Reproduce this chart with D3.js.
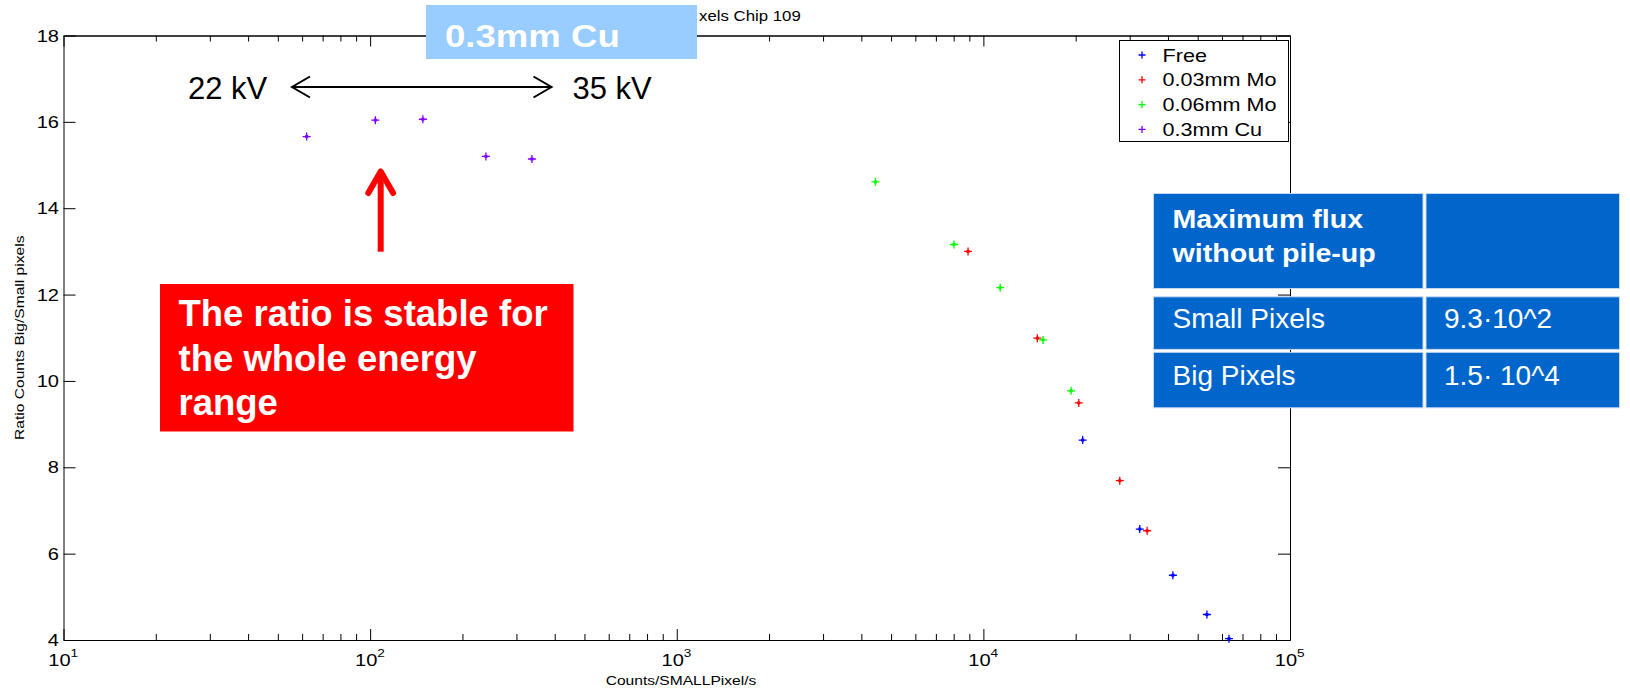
<!DOCTYPE html>
<html>
<head>
<meta charset="utf-8">
<script src="https://cdn.jsdelivr.net/npm/d3@7"></script>
<style>
  html, body { margin: 0; padding: 0; background: #fff; }
  svg { display: block; font-family: "Liberation Sans", Arial, sans-serif; }
</style>
</head>
<body>
<svg id="chart" width="1630" height="688"></svg>
<script>
// ---------------- data ----------------
const seriesNames = ["Free", "0.03mm Mo", "0.06mm Mo", "0.3mm Cu"];
const freeX = [21080, 32360, 41500, 53580, 63240];
const freeY = [8.63, 6.57, 5.50, 4.59, 4.03];
const mo03X = [8913, 14997, 20470, 27850, 34200];
const mo03Y = [13.00, 10.99, 9.49, 7.69, 6.53];
const mo06X = [4446, 8017, 11350, 15650, 19320];
const mo06Y = [14.61, 13.16, 12.16, 10.95, 9.77];
const cuX = [62.1, 104, 148.6, 238.6, 337];
const cuY = [15.66, 16.04, 16.06, 15.20, 15.14];
const yTicks = [4, 6, 8, 10, 12, 14, 16, 18];
const xDecades = [10, 100, 1000, 10000, 100000];
const xExponents = ["1", "2", "3", "4", "5"];
const titleVisible = "xels Chip 109"; // the rest of the title is hidden behind the filter label
const xLabel = "Counts/SMALLPixel/s";
const yLabel = "Ratio Counts Big/Small pixels";
const filterLabel = "0.3mm Cu";
const kvLabels = ["22 kV", "35 kV"];
const noteLines = ["The ratio is stable for", "the whole energy", "range"];
const tableHeader = ["Maximum flux", "without pile-up"];
const tableRowLabels = ["Small Pixels", "Big Pixels"];
const tableRowValues = ["9.3\u00B710^2", "1.5\u00B7 10^4"];

const seriesData = [
  {name: seriesNames[0], xs: freeX, ys: freeY, color: "#0000ff"},
  {name: seriesNames[1], xs: mo03X, ys: mo03Y, color: "#ff0000"},
  {name: seriesNames[2], xs: mo06X, ys: mo06Y, color: "#00ff00"},
  {name: seriesNames[3], xs: cuX, ys: cuY, color: "#7f00ff"}
];

// ---------------- layout ----------------
const L = 63.5, R = 1290, T = 35.5, B = 640;
const svg = d3.select("#chart");
const x = d3.scaleLog().domain([10, 100000]).range([L, R]);
const y = d3.scaleLinear().domain([4, 18]).range([B, T]);

function stretchedText(g, tx, ty, txt, size, sx, anchor, weight, color) {
  return g.append("text")
    .attr("transform", `translate(${tx},${ty}) scale(${sx},1)`)
    .attr("text-anchor", anchor || "start")
    .attr("font-size", size)
    .attr("font-weight", weight || "normal")
    .attr("fill", color || "#000")
    .text(txt);
}

// minor tick values
const minorTicks = [];
for (let d = 10; d < 100000; d *= 10) for (let m = 2; m <= 9; m++) minorTicks.push(d * m);

// title (visible part, to the right of the filter label box)
stretchedText(svg, 699, 21, titleVisible, 14, 1.2, "start");

// axes
const axG = svg.append("g");
function styleAxis(g) {
  g.selectAll("path.domain").attr("stroke", "#000").attr("stroke-width", 1);
  g.selectAll(".tick line").attr("stroke", "#000").attr("stroke-width", 1);
  g.selectAll(".tick text").remove();
}
axG.append("g").attr("transform", `translate(0,${B})`)
  .call(d3.axisBottom(x).tickValues(xDecades).tickSizeInner(-11).tickSizeOuter(0).tickFormat(""))
  .call(styleAxis);
axG.append("g").attr("transform", `translate(0,${B})`)
  .call(d3.axisBottom(x).tickValues(minorTicks).tickSizeInner(-6).tickSizeOuter(0).tickFormat(""))
  .call(styleAxis);
axG.append("g").attr("transform", `translate(0,${T})`)
  .call(d3.axisTop(x).tickValues(xDecades).tickSizeInner(-11).tickSizeOuter(0).tickFormat(""))
  .call(styleAxis);
axG.append("g").attr("transform", `translate(0,${T})`)
  .call(d3.axisTop(x).tickValues(minorTicks).tickSizeInner(-6).tickSizeOuter(0).tickFormat(""))
  .call(styleAxis);
axG.append("g").attr("transform", `translate(${L},0)`)
  .call(d3.axisLeft(y).tickValues(yTicks).tickSizeInner(-12).tickSizeOuter(0).tickFormat(""))
  .call(styleAxis);
axG.append("g").attr("transform", `translate(${R},0)`)
  .call(d3.axisRight(y).tickValues(yTicks).tickSizeInner(-12).tickSizeOuter(0).tickFormat(""))
  .call(styleAxis);

// y tick labels
yTicks.forEach(v => {
  stretchedText(svg, L - 4.5, y(v) + 6, String(v), 17, 1.18, "end");
});
// x tick labels with superscripts
xDecades.forEach((v, i) => {
  const cx = x(v);
  stretchedText(svg, cx - 4, 666, "10", 17, 1.18, "middle");
  stretchedText(svg, cx + 7, 657, xExponents[i], 11.5, 1.18, "start");
});
// axis labels
stretchedText(svg, 681, 685, xLabel, 13, 1.2, "middle");
svg.append("text")
  .attr("transform", `translate(24,${(T + B) / 2}) rotate(-90) scale(1.2,1)`)
  .attr("text-anchor", "middle").attr("font-size", 13).text(yLabel);

// markers
function plusPath(px, py, s) {
  return `M${px - s},${py}H${px + s}M${px},${py - s}V${py + s}`;
}
const ptsG = svg.append("g");
seriesData.forEach(s => {
  const pts = s.xs.map((v, i) => [v, s.ys[i]]);
  ptsG.selectAll(null).data(pts).enter().append("path")
    .attr("d", d => plusPath(x(d[0]), y(d[1]), 4))
    .attr("stroke", s.color).attr("stroke-width", 1.3).attr("fill", "none");
  ptsG.selectAll(null).data(pts).enter().append("rect")
    .attr("x", d => x(d[0]) - 1.5).attr("y", d => y(d[1]) - 1.5)
    .attr("width", 3).attr("height", 3).attr("fill", s.color);
});

// legend
const lg = svg.append("g");
lg.append("rect").attr("x", 1119.5).attr("y", 40.5).attr("width", 169).attr("height", 101)
  .attr("fill", "#fff").attr("stroke", "#000").attr("stroke-width", 1);
seriesData.forEach((s, i) => {
  const ly = 55 + i * 24.8;
  lg.append("path").attr("d", plusPath(1142, ly, 3.5)).attr("stroke", s.color).attr("stroke-width", 1.3);
  stretchedText(lg, 1162.5, ly + 6.5, s.name, 18, 1.2, "start");
});

// filter label box
svg.append("rect").attr("x", 426).attr("y", 5).attr("width", 271).attr("height", 54).attr("fill", "#99ccff");
stretchedText(svg, 445, 47, filterLabel, 31, 1.18, "start", "bold", "#fff");

// kV labels and double arrow
svg.append("text").attr("x", 188).attr("y", 98.5).attr("font-size", 31).text(kvLabels[0]);
svg.append("text").attr("x", 572.5).attr("y", 98.5).attr("font-size", 31).text(kvLabels[1]);
const arr = svg.append("g").attr("stroke", "#000").attr("stroke-width", 2).attr("fill", "none");
arr.append("line").attr("x1", 292).attr("y1", 87).attr("x2", 551.5).attr("y2", 87);
arr.append("polyline").attr("points", "310,76.5 292,87 310,97.5");
arr.append("polyline").attr("points", "533.5,76.5 551.5,87 533.5,97.5");

// red arrow
const ra = svg.append("g").attr("stroke", "#ff0000").attr("fill", "none");
ra.append("line").attr("x1", 380.7).attr("y1", 251.7).attr("x2", 380.7).attr("y2", 174).attr("stroke-width", 6);
ra.append("polyline").attr("points", "368.3,193 380.7,171.5 393.1,193")
  .attr("stroke-width", 6).attr("stroke-linecap", "round").attr("stroke-linejoin", "round");

// red note box
svg.append("rect").attr("x", 160).attr("y", 284).attr("width", 413.5).attr("height", 147.5).attr("fill", "#ff0000");
noteLines.forEach((t, i) => {
  svg.append("text").attr("x", 178.5).attr("y", 326 + i * 44.7)
    .attr("font-size", 36.5).attr("font-weight", "bold").attr("fill", "#fff").text(t);
});

// table
const tb = svg.append("g");
const cellFill = "#0066cc", cellStroke = "#c6d9f1";
const col = [[1153.5, 269.5], [1426, 193.5]];
const rows = [[193.5, 95], [296.8, 52.6], [352.3, 55.5]];
rows.forEach(r => col.forEach(c => {
  tb.append("rect").attr("x", c[0]).attr("y", r[0]).attr("width", c[1]).attr("height", r[1])
    .attr("fill", cellFill).attr("stroke", cellStroke).attr("stroke-width", 1);
}));
tableHeader.forEach((t, i) => {
  stretchedText(tb, 1172.5, 228 + i * 33.7, t, 26, 1.1, "start", "bold", "#fff");
});
tableRowLabels.forEach((t, i) => {
  tb.append("text").attr("x", 1172.5).attr("y", 328 + i * 57).attr("font-size", 28).attr("fill", "#fff").text(t);
});
tableRowValues.forEach((t, i) => {
  tb.append("text").attr("x", 1444).attr("y", 328 + i * 57).attr("font-size", 28).attr("fill", "#fff").text(t);
});
</script>
</body>
</html>
